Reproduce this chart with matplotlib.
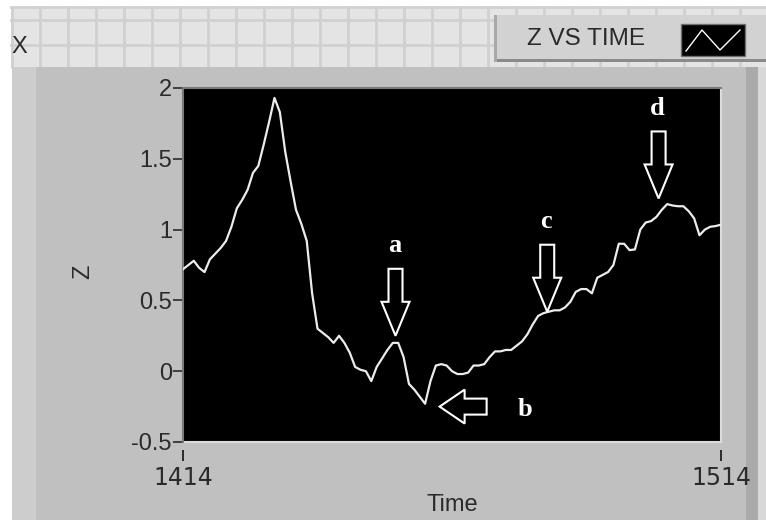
import matplotlib
matplotlib.use("Agg")
import matplotlib.pyplot as plt
from matplotlib.patches import Rectangle, Polygon
from matplotlib.lines import Line2D

# ---------------- data ----------------
time = list(range(1414, 1515))
z = [0.72, 0.75, 0.78, 0.73, 0.70, 0.79, 0.83, 0.87, 0.92, 1.02,
     1.15, 1.21, 1.28, 1.40, 1.45, 1.60, 1.76, 1.93, 1.83, 1.55,
     1.34, 1.14, 1.04, 0.92, 0.55, 0.30, 0.27, 0.24, 0.20, 0.25,
     0.20, 0.13, 0.03, 0.01, 0.00, -0.07, 0.03, 0.09, 0.15, 0.20,
     0.20, 0.10, -0.09, -0.13, -0.18, -0.23, -0.07, 0.04, 0.05, 0.04,
     0.00, -0.02, -0.02, -0.01, 0.04, 0.04, 0.05, 0.10, 0.14, 0.14,
     0.15, 0.15, 0.18, 0.21, 0.26, 0.33, 0.39, 0.41, 0.42, 0.43,
     0.43, 0.45, 0.49, 0.56, 0.58, 0.58, 0.55, 0.66, 0.68, 0.70,
     0.75, 0.90, 0.90, 0.855, 0.86, 1.00, 1.05, 1.06, 1.09, 1.14,
     1.18, 1.17, 1.165, 1.165, 1.13, 1.08, 0.96, 1.00, 1.02, 1.025,
     1.035]
y_ticks = [-0.5, 0, 0.5, 1, 1.5, 2]
y_tick_labels = ["-0.5", "0", "0.5", "1", "1.5", "2"]
x_ticks = [1414, 1514]
x_tick_labels = ["1414", "1514"]
marker_labels = ["a", "b", "c", "d"]
marker_t = [1453.5, 1461.7, 1481.7, 1502.4]
marker_z = [0.25, -0.25, 0.42, 1.22]
marker_dir = ["down", "left", "down", "down"]
legend_label = "Z VS TIME"

# ---------------- figure ----------------
W, H = 766, 520
fig = plt.figure(figsize=(W / 100, H / 100), dpi=100)
fig.patch.set_facecolor("white")

def fx(x):
    return x / W

def fy(y):
    return 1 - y / H

SANS = ["Liberation Sans", "DejaVu Sans"]
TXT = "#2a2a2a"

# top grid area
fig.add_artist(Rectangle((fx(11), fy(67)), fx(766 - 11), 60 / H,
                         transform=fig.transFigure, facecolor="#e4e4e4",
                         edgecolor="none", zorder=0))
for gx in range(12, 766, 28):
    fig.add_artist(Line2D([fx(gx), fx(gx)], [fy(67), fy(7)],
                          transform=fig.transFigure, color="#d0d0d0", lw=2.0, zorder=0.5))
for gy in [7, 20, 45]:
    fig.add_artist(Line2D([fx(11), 1], [fy(gy), fy(gy)],
                          transform=fig.transFigure, color="#d0d0d0", lw=2.0, zorder=0.5))

# gray panel
fig.add_artist(Rectangle((fx(12), 0), fx(758 - 12), fy(67),
                         transform=fig.transFigure, facecolor="#c0c0c0",
                         edgecolor="none", zorder=1))
fig.add_artist(Rectangle((fx(12), 0), fx(24), fy(67),
                         transform=fig.transFigure, facecolor="#cdcdcd",
                         edgecolor="none", zorder=1.1))
fig.add_artist(Rectangle((fx(746), 0), fx(12), fy(67),
                         transform=fig.transFigure, facecolor="#aaaaaa",
                         edgecolor="none", zorder=1.1))
fig.add_artist(Rectangle((fx(758), 0), fx(8), fy(67),
                         transform=fig.transFigure, facecolor="#d8d8d8",
                         edgecolor="none", zorder=1.1))

# "X" label at top left
fig.text(fx(11), fy(47), "X", fontsize=17, color=TXT, family=SANS,
         ha="left", va="center", zorder=3)

# legend box
fig.add_artist(Rectangle((fx(494), fy(62)), fx(766 - 494), 47 / H,
                         transform=fig.transFigure, facecolor="#d2d2d2",
                         edgecolor="none", zorder=2))
fig.add_artist(Rectangle((fx(494), fy(62)), fx(766 - 494), 3 / H,
                         transform=fig.transFigure, facecolor="#8a8a8a",
                         edgecolor="none", zorder=2.1))
fig.add_artist(Rectangle((fx(494), fy(62)), 3 / W, 47 / H,
                         transform=fig.transFigure, facecolor="#a8a8a8",
                         edgecolor="none", zorder=2.1))
fig.text(fx(527), fy(39), legend_label, fontsize=17.5, color=TXT, family=SANS,
         ha="left", va="center", zorder=3)
fig.add_artist(Rectangle((fx(681), fy(56)), fx(745 - 681), 32 / H,
                         transform=fig.transFigure, facecolor="black",
                         edgecolor="#707070", lw=1, zorder=3))
zx = [686, 702, 720, 740]
zy = [51, 30, 50, 30]
fig.add_artist(Line2D([fx(v) for v in zx], [fy(v) for v in zy],
                      transform=fig.transFigure, color="white", lw=1.0, zorder=4))

# ---------------- axes ----------------
ax = fig.add_axes([fx(183), fy(442), fx(721 - 183), (442 - 88) / H])
ax.set_zorder(5)
ax.set_facecolor("black")
ax.plot(time, z, color="#ececec", lw=1.6, zorder=3)
ax.set_xlim(1414, 1514)
ax.set_ylim(-0.5, 2)
ax.set_yticks(y_ticks)
ax.set_yticklabels(y_tick_labels)
ax.set_xticks(x_ticks)
ax.set_xticklabels(x_tick_labels)
ax.tick_params(axis="y", direction="out", length=7, width=1.2, color=TXT,
               labelsize=17, labelcolor=TXT, pad=1)
ax.tick_params(axis="x", direction="out", length=8, width=1.4, color=TXT,
               labelsize=17, labelcolor=TXT, pad=3)
for lab in ax.get_xticklabels() + ax.get_yticklabels():
    lab.set_family(SANS)
for s in ["top", "right", "left"]:
    ax.spines[s].set_color("#7a7a7a")
    ax.spines[s].set_linewidth(1.5)
ax.spines["right"].set_color("#dcdcdc")
ax.spines["bottom"].set_position(("outward", 6))
ax.spines["bottom"].set_color("none")
ax.add_patch(Rectangle((0, 0), 1, 0, transform=ax.transAxes, fill=False,
                       edgecolor="#dcdcdc", lw=1.5, clip_on=False))
ax.set_xlabel("Time", fontsize=17, color=TXT, family=SANS, labelpad=3)
ax.set_ylabel("Z", fontsize=17, color=TXT, family=SANS)
ax.yaxis.set_label_coords(-0.165, 0.48)

# ---------------- arrow annotations ----------------
fig.canvas.draw()

def tip_px(t, v):
    dx, dy = ax.transData.transform((t, v))
    return dx, H - dy  # image pixel coords

for lab, t, v, d in zip(marker_labels, marker_t, marker_z, marker_dir):
    tx, ty = tip_px(t, v)
    if d == "down":
        pts = [(tx, ty), (tx - 14, ty - 34), (tx - 7, ty - 34), (tx - 7, ty - 67),
               (tx + 7, ty - 67), (tx + 7, ty - 34), (tx + 14, ty - 34)]
        lx, ly = tx - 1, ty - 90
    else:
        pts = [(tx, ty), (tx + 25, ty - 17), (tx + 25, ty - 8), (tx + 47, ty - 8),
               (tx + 47, ty + 8), (tx + 25, ty + 8), (tx + 25, ty + 17)]
        lx, ly = tx + 85, ty + 3
    fig.add_artist(Polygon([(fx(px), fy(py)) for px, py in pts], closed=True,
                           transform=fig.transFigure, facecolor="none",
                           edgecolor="white", lw=1.5, zorder=10))
    fig.text(fx(lx), fy(ly), lab, fontsize=19, fontweight="bold", color="white",
             family=["Liberation Serif", "DejaVu Serif"], ha="center", va="center",
             zorder=11)

fig.savefig("out.png", dpi=100, facecolor=fig.get_facecolor())
